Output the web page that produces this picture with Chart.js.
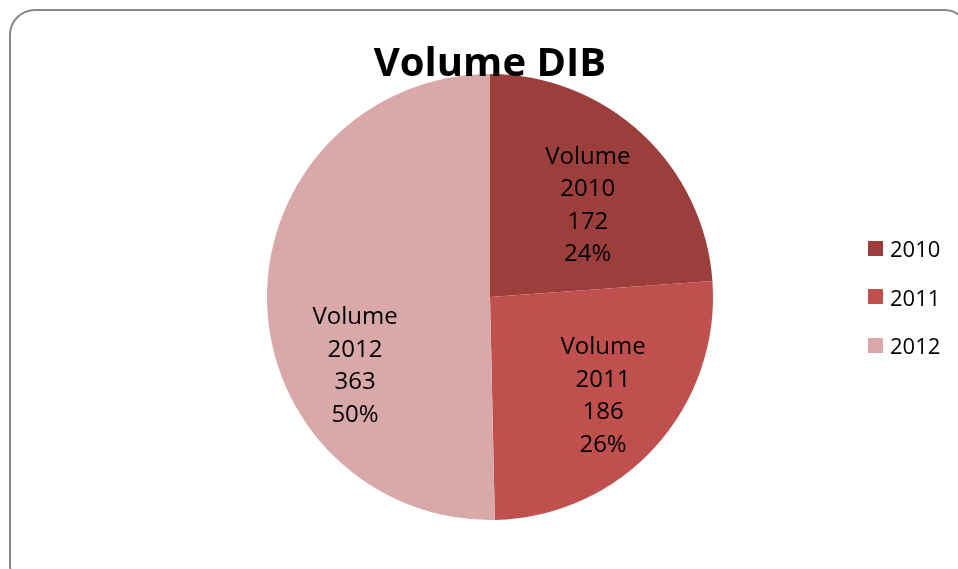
<!DOCTYPE html>
<html>
<head>
<meta charset="utf-8">
<script src="https://cdn.jsdelivr.net/npm/chart.js@4"></script>
<style>
  html, body { margin: 0; padding: 0; background: #fff; overflow: hidden; }
  #wrap { position: relative; width: 958px; height: 569px; overflow: hidden; }
  #frame {
    position: absolute; left: 9px; top: 9px; width: 961px; height: 582px;
    border: 2.5px solid #878787; border-radius: 26px; box-sizing: border-box;
  }
  #chart { position: absolute; left: 0; top: 0; }
  #legend { position: absolute; left: 868px; top: 224px; font-family: "Open Sans", sans-serif; font-size: 22px; color: #000; }
  #legend .row { display: flex; align-items: center; height: 48.5px; }
  #legend .sw { width: 15px; height: 15px; margin-right: 7px; }
</style>
</head>
<body>
<div id="wrap">
  <div id="frame"></div>
  <canvas id="chart" width="958" height="569"></canvas>
  <div id="legend"></div>
</div>
<script>
// Volume DIB pie: yearly volumes with value + share labels inside slices

const TITLE = 'Volume DIB';
const SERIES_NAME = 'Volume';
const YEARS = ['2010', '2011', '2012'];
const VOLUMES = [172, 186, 363];
const COLORS = ['#9C3E3C', '#C0504D', '#D9A8A8'];

// draws "Volume / year / value / pct" inside each slice
const sliceLabels = {
  id: 'sliceLabels',
  afterDatasetsDraw(chart, args, opts) {
    const ctx = chart.ctx;
    const ds = chart.data.datasets[0];
    const total = ds.data.reduce((a, b) => a + b, 0);
    const arcs = chart.getDatasetMeta(0).data;
    ctx.save();
    ctx.font = opts.font;
    ctx.fillStyle = '#000';
    ctx.textAlign = 'center';
    ctx.textBaseline = 'middle';
    arcs.forEach((arc, i) => {
      const p = arc.getProps(['x', 'y', 'startAngle', 'endAngle', 'outerRadius'], true);
      // Excel's best-fit placement nudges labels a bit off the slice middle
      const mid = (p.startAngle + p.endAngle) / 2 + opts.angleShift[i] * Math.PI / 180;
      const r = p.outerRadius * opts.radius[i];
      const cx = p.x + Math.cos(mid) * r;
      const cy = p.y + Math.sin(mid) * r;
      const lines = [SERIES_NAME, chart.data.labels[i], String(ds.data[i]), Math.round(ds.data[i] / total * 100) + '%'];
      const lh = opts.lineHeight;
      lines.forEach((t, k) => {
        ctx.fillText(t, cx, cy + (k - (lines.length - 1) / 2) * lh);
      });
    });
    ctx.restore();
  }
};

// title drawn over the top of the pie, like the original
const overlayTitle = {
  id: 'overlayTitle',
  afterDraw(chart, args, opts) {
    const ctx = chart.ctx;
    const a = chart.chartArea;
    ctx.save();
    ctx.font = opts.font;
    ctx.fillStyle = '#000';
    ctx.textAlign = 'center';
    ctx.textBaseline = 'alphabetic';
    ctx.fillText(opts.text, (a.left + a.right) / 2, a.top + opts.offset);
    ctx.restore();
  }
};

new Chart(document.getElementById('chart'), {
  type: 'pie',
  data: {
    labels: YEARS,
    datasets: [{
      data: VOLUMES,
      backgroundColor: COLORS,
      borderWidth: 0
    }]
  },
  options: {
    responsive: false,
    animation: false,
    layout: { padding: { left: 267, right: 245, top: 74, bottom: 49 } },
    plugins: {
      legend: { display: false },
      tooltip: { enabled: false },
      sliceLabels: {
        font: '24px "Open Sans"', lineHeight: 32.5,
        radius: [0.6, 0.675, 0.68], angleShift: [4, -1, -26.5]
      },
      overlayTitle: { text: TITLE, font: 'bold 40px "Open Sans"', offset: 2 }
    }
  },
  plugins: [sliceLabels, overlayTitle]
});

const legendEl = document.getElementById('legend');
YEARS.forEach((y, i) => {
  const row = document.createElement('div');
  row.className = 'row';
  row.innerHTML = '<span class="sw" style="background:' + COLORS[i] + '"></span><span>' + y + '</span>';
  legendEl.appendChild(row);
});
</script>
</body>
</html>
